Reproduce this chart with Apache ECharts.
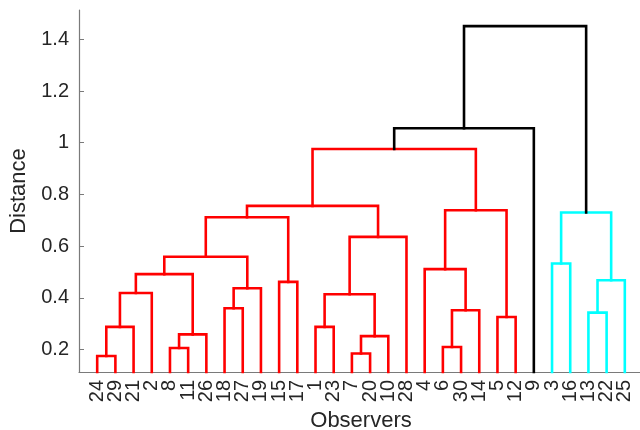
<!DOCTYPE html>
<html>
<head>
<meta charset="utf-8">
<script src="https://cdn.jsdelivr.net/npm/echarts@6/dist/echarts.min.js"></script>
<style>
  html, body { margin: 0; padding: 0; background: #fff; }
  #chart { width: 640px; height: 430px; }
</style>
</head>
<body>
<div id="chart"></div>
<script>
// leaves left to right
const leafOrder = [24, 29, 21, 2, 8, 11, 26, 18, 27, 19, 15, 17, 1, 23, 7, 20, 10, 28, 4, 6, 30, 14, 5, 12, 9, 3, 16, 13, 22, 25];

// linkage: merge i creates cluster 31 + i
const mergeLeft = [24, 7, 8, 6, 32, 33, 31, 1, 5, 13, 34, 18, 38, 37, 42, 15, 40, 44, 4, 3, 48, 43, 51, 50, 49, 53, 56, 57, 58];
const mergeRight = [29, 20, 11, 30, 10, 26, 21, 23, 12, 22, 14, 27, 35, 2, 19, 17, 25, 36, 41, 16, 45, 28, 46, 47, 39, 52, 55, 9, 54];
const mergeHeight = [0.175, 0.185, 0.206, 0.210, 0.252, 0.259, 0.288, 0.288, 0.326, 0.343, 0.352, 0.360, 0.414, 0.419, 0.437, 0.462, 0.468, 0.492, 0.511, 0.533, 0.559, 0.636, 0.712, 0.730, 0.739, 0.756, 0.976, 1.056, 1.451];

const yTicks = [0.2, 0.4, 0.6, 0.8, 1, 1.2, 1.4];

const nLeaves = leafOrder.length;
const groupColors = ['#ff0000', '#00ffff'];
const font = '"Liberation Sans", Arial, Helvetica, sans-serif';
const textColor = '#262626';

// x of each node: leaves by position, clusters at middle of children
const nodeX = {};
const nodeH = {};
leafOrder.forEach((id, i) => { nodeX[id] = i + 1; nodeH[id] = 0; });
mergeHeight.forEach((h, i) => {
    const id = nLeaves + 1 + i;
    nodeX[id] = (nodeX[mergeLeft[i]] + nodeX[mergeRight[i]]) / 2;
    nodeH[id] = h;
});

// colour groups below 0.7 * max height (like matlab default)
const cutoff = 0.7 * Math.max(...mergeHeight);
const groupOf = {};
const roots = [];
for (let i = mergeHeight.length - 1; i >= 0; i--) {
    const id = nLeaves + 1 + i;
    if (mergeHeight[i] >= cutoff) { groupOf[id] = -1; continue; }
    if (groupOf[id] === undefined) { groupOf[id] = roots.length; roots.push(id); }
    [mergeLeft[i], mergeRight[i]].forEach(c => { if (c > nLeaves) groupOf[c] = groupOf[id]; });
}
// left to right order for the palette
const sortedRoots = roots.slice().sort((a, b) => nodeX[a] - nodeX[b]);
function linkColor(id) {
    const g = groupOf[id];
    if (g === -1) return '#000000';
    return groupColors[sortedRoots.indexOf(roots[g]) % groupColors.length];
}

const series = mergeHeight.map((h, i) => {
    const id = nLeaves + 1 + i;
    const a = mergeLeft[i], b = mergeRight[i];
    return {
        type: 'line',
        symbol: 'none',
        silent: true,
        animation: false,
        clip: true,
        lineStyle: { color: linkColor(id), width: 2.6, cap: 'square', join: 'miter' },
        data: [[nodeX[a], nodeH[a]], [nodeX[a], h], [nodeX[b], h], [nodeX[b], nodeH[b]]]
    };
});

// blank slots at both ends so echarts' min/max label check leaves the leaves alone
const xLabelValues = [0, ...leafOrder.map((v, i) => i + 1), nLeaves + 1];

const chart = echarts.init(document.getElementById('chart'), null, { renderer: 'canvas' });
chart.setOption({
    backgroundColor: '#ffffff',
    animation: false,
    grid: { left: 79, right: -3, top: 10, bottom: 58, outerBoundsMode: 'none', containLabel: false },
    xAxis: {
        type: 'value',
        min: 0,
        max: nLeaves + 1,
        name: 'Observers',
        nameLocation: 'middle',
        nameGap: 36,
        nameTextStyle: { fontSize: 22, color: textColor, fontFamily: font },
        axisLine: { show: true, lineStyle: { color: '#7a7a7a', width: 1.2 } },
        axisTick: { show: false },
        splitLine: { show: false },
        axisLabel: {
            customValues: xLabelValues,
            formatter: v => {
                const i = Math.round(v);
                return i >= 1 && i <= nLeaves ? String(leafOrder[i - 1]) : '';
            },
            rotate: 90,
            margin: 8,
            fontSize: 20,
            color: textColor,
            fontFamily: font,
            showMinLabel: false,
            showMaxLabel: false,
            hideOverlap: false
        }
    },
    yAxis: {
        type: 'value',
        min: 0.1133,
        max: 1.5134,
        name: 'Distance',
        nameLocation: 'middle',
        nameGap: 46,
        nameTextStyle: { fontSize: 22, color: textColor, fontFamily: font },
        axisLine: { show: true, lineStyle: { color: '#7a7a7a', width: 1.2 } },
        axisTick: { show: true, inside: true, length: 5, customValues: yTicks, lineStyle: { color: '#7a7a7a' } },
        splitLine: { show: false },
        axisLabel: {
            customValues: yTicks,
            formatter: v => String(+v.toFixed(1)),
            margin: 10,
            fontSize: 20,
            color: textColor,
            fontFamily: font,
            showMinLabel: true,
            showMaxLabel: true
        }
    },
    series: series
});
</script>
</body>
</html>
